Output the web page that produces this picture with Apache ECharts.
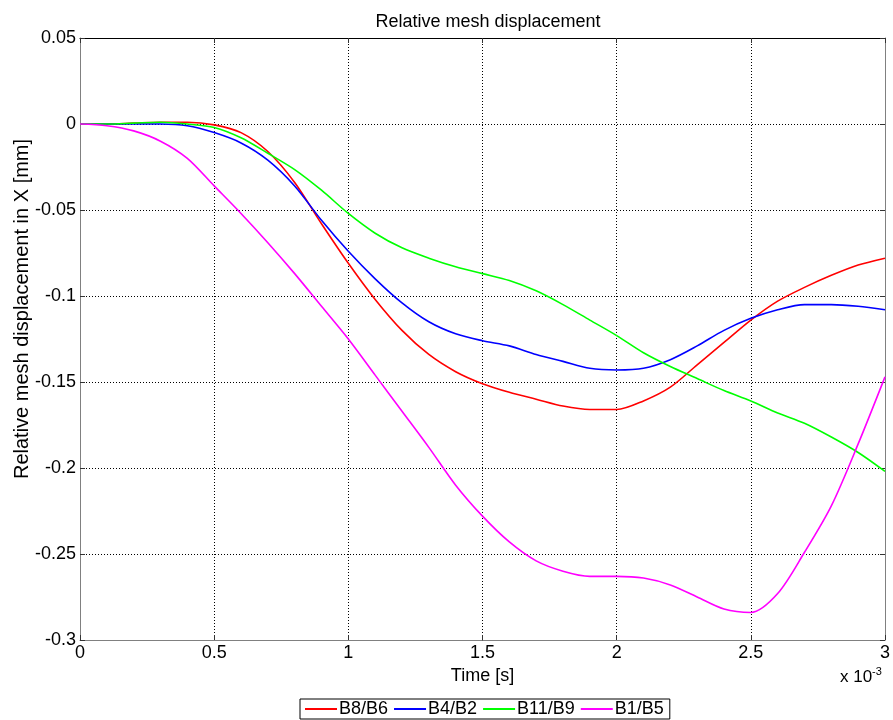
<!DOCTYPE html>
<html><head><meta charset="utf-8">
<script src="https://cdn.jsdelivr.net/npm/echarts@6/dist/echarts.min.js"></script>
<style>html,body{margin:0;padding:0;background:#fff}#c{width:893px;height:720px}</style>
</head><body><div id="c"></div>
<script>
const timeMs = [0,0.1,0.2,0.3,0.4,0.5,0.6,0.7,0.8,0.9,1.0,1.1,1.2,1.3,1.4,1.5,1.6,1.7,1.8,1.9,2.0,2.1,2.2,2.3,2.4,2.5,2.6,2.7,2.8,2.9,3.0];
const b8b6 = [0,0,0.0005,0.001,0.001,-0.0005,-0.005,-0.016,-0.034,-0.058,-0.081,-0.102,-0.120,-0.134,-0.144,-0.151,-0.156,-0.160,-0.164,-0.166,-0.166,-0.161,-0.153,-0.140,-0.127,-0.114,-0.103,-0.095,-0.088,-0.082,-0.078];
const b4b2 = [0,0,0,0,-0.001,-0.005,-0.011,-0.021,-0.036,-0.056,-0.074,-0.090,-0.104,-0.115,-0.122,-0.126,-0.129,-0.134,-0.138,-0.142,-0.143,-0.142,-0.137,-0.129,-0.120,-0.113,-0.108,-0.105,-0.105,-0.106,-0.108];
const b11b9 = [0,0,0.0005,0.001,0,-0.002,-0.008,-0.017,-0.0265,-0.0385,-0.052,-0.0635,-0.072,-0.078,-0.083,-0.087,-0.091,-0.097,-0.105,-0.114,-0.123,-0.133,-0.141,-0.148,-0.155,-0.161,-0.168,-0.174,-0.182,-0.191,-0.202];
const b1b5 = [0,-0.001,-0.004,-0.010,-0.020,-0.036,-0.052,-0.069,-0.087,-0.106,-0.125,-0.146,-0.167,-0.188,-0.210,-0.228,-0.243,-0.254,-0.260,-0.263,-0.263,-0.264,-0.268,-0.275,-0.282,-0.284,-0.273,-0.249,-0.222,-0.186,-0.147];
const seriesNames = ['B8/B6','B4/B2','B11/B9','B1/B5'];
const seriesColors = ['#ff0000','#0000ff','#00ff00','#ff00ff'];
const seriesData = [b8b6,b4b2,b11b9,b1b5];

const FONT = 'Liberation Sans';
const AX = '#808080';
const chart = echarts.init(document.getElementById('c'));
const fmt = v => String(+(+v).toFixed(2));
const tick = {show:true,inside:true,length:5,lineStyle:{color:'#333'}};
chart.setOption({
  animation:false,
  textStyle:{fontFamily:FONT},
  title:{text:'Relative mesh displacement',left:483,textAlign:'center',top:8,textStyle:{fontFamily:FONT,fontSize:18,fontWeight:'normal',color:'#000'}},
  grid:{left:80,right:6,top:38,bottom:80},
  legend:{data:seriesNames,left:300,top:699,orient:'horizontal',icon:'rect',itemWidth:32,itemHeight:2,itemGap:6,
    borderColor:'#000',borderWidth:1,padding:[1,6,1,5],textStyle:{fontFamily:FONT,fontSize:18,color:'#000',padding:[0,0,0,-3]}},
  xAxis:[{type:'value',min:0,max:3,interval:0.5,name:'Time [s]',nameLocation:'middle',nameGap:25,
    nameTextStyle:{fontFamily:FONT,fontSize:18,color:'#000',verticalAlign:'top'},
    axisLine:{show:true,onZero:false,lineStyle:{color:AX}},axisTick:tick,
    axisLabel:{fontFamily:FONT,fontSize:18,color:'#000',margin:4,formatter:fmt},
    splitLine:{show:true,lineStyle:{color:'#000',type:[1,2],width:1}}},
    {type:'value',min:0,max:3,interval:0.5,position:'top',axisLine:{show:true,onZero:false,lineStyle:{color:'#000'}},
    axisTick:tick,axisLabel:{show:false},splitLine:{show:false}}],
  yAxis:[{type:'value',min:-0.3,max:0.05,interval:0.05,
    axisLine:{show:true,onZero:false,lineStyle:{color:AX}},axisTick:tick,
    axisLabel:{fontFamily:FONT,fontSize:18,color:'#000',margin:4,formatter:fmt},
    splitLine:{show:true,lineStyle:{color:'#000',type:[1,2],width:1}}},
    {type:'value',min:-0.3,max:0.05,interval:0.05,position:'right',axisLine:{show:true,onZero:false,lineStyle:{color:AX}},
    axisTick:tick,axisLabel:{show:false},splitLine:{show:false}}],
  graphic:[
    {type:'text',x:22,y:309,rotation:Math.PI/2,style:{text:'Relative mesh displacement in X [mm]',fontFamily:FONT,fontSize:20,fill:'#000',align:'center',verticalAlign:'middle'}},
    {type:'text',left:840,top:669,style:{text:'x 10',fontFamily:FONT,fontSize:17,fill:'#000'}},
    {type:'text',left:872,top:666,style:{text:'-3',fontFamily:FONT,fontSize:11,fill:'#000'}}
  ],
  series: seriesNames.map((n,i)=>({name:n,type:'line',showSymbol:false,symbol:'none',smooth:0.3,
    data: timeMs.map((t,j)=>[t,seriesData[i][j]]),
    lineStyle:{color:seriesColors[i],width:1.6},itemStyle:{color:seriesColors[i]}}))
});
</script></body></html>
